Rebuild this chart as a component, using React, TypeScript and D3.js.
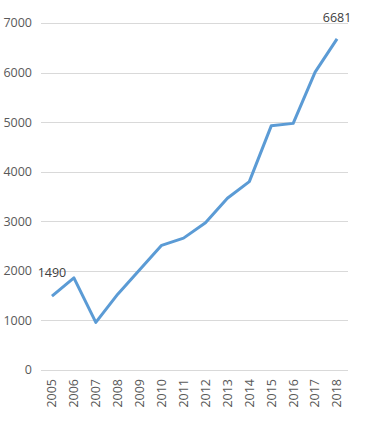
import React from "react";
import * as d3 from "d3";

const years = ["2005","2006","2007","2008","2009","2010","2011","2012","2013","2014","2015","2016","2017","2018"];
const values = [1490, 1860, 960, 1530, 2020, 2515, 2660, 2970, 3465, 3800, 4925, 4975, 6010, 6681];
const yTicks = [0, 1000, 2000, 3000, 4000, 5000, 6000, 7000];
const labeled = [{ i: 0, text: "1490" }, { i: 13, text: "6681" }];

const W = 366, H = 422;
const left = 41, right = 348, top = 23, bottom = 370;
const font = "'Open Sans', 'Liberation Sans', sans-serif";

export default function App() {
  const x = d3.scalePoint<string>().domain(years).range([left, right]).padding(0.5);
  const y = d3.scaleLinear().domain([0, 7000]).range([bottom, top]);
  const line = d3.line<number>().x((_, i) => x(years[i])!).y((d) => y(d));
  return (
    <svg width={W} height={H} style={{ position: "absolute", left: 0, top: 0, background: "#fff" }}>
      {yTicks.map((t) => (
        <g key={t}>
          <line x1={left} x2={right} y1={Math.round(y(t)) + 0.5} y2={Math.round(y(t)) + 0.5} stroke="#d9d9d9" strokeWidth={1} />
          <text x={32} y={y(t)} dy="0.35em" textAnchor="end" fontFamily={font} fontSize={12.5} fill="#595959">{t}</text>
        </g>
      ))}
      {years.map((yr) => (
        <text key={yr} transform={`translate(${x(yr)! },${379}) rotate(-90)`} dy="0.35em" textAnchor="end" fontFamily={font} fontSize={12.5} fill="#595959">{yr}</text>
      ))}
      <path d={line(values)!} fill="none" stroke="#5B9BD5" strokeWidth={3} strokeLinejoin="round" />
      {labeled.map((l) => (
        <text key={l.i} x={x(years[l.i])!} y={y(values[l.i]) - (l.i === 0 ? 24 : 21)} dy="0.35em" textAnchor="middle" fontFamily={font} fontSize={12.5} fill="#404040">{l.text}</text>
      ))}
    </svg>
  );
}
